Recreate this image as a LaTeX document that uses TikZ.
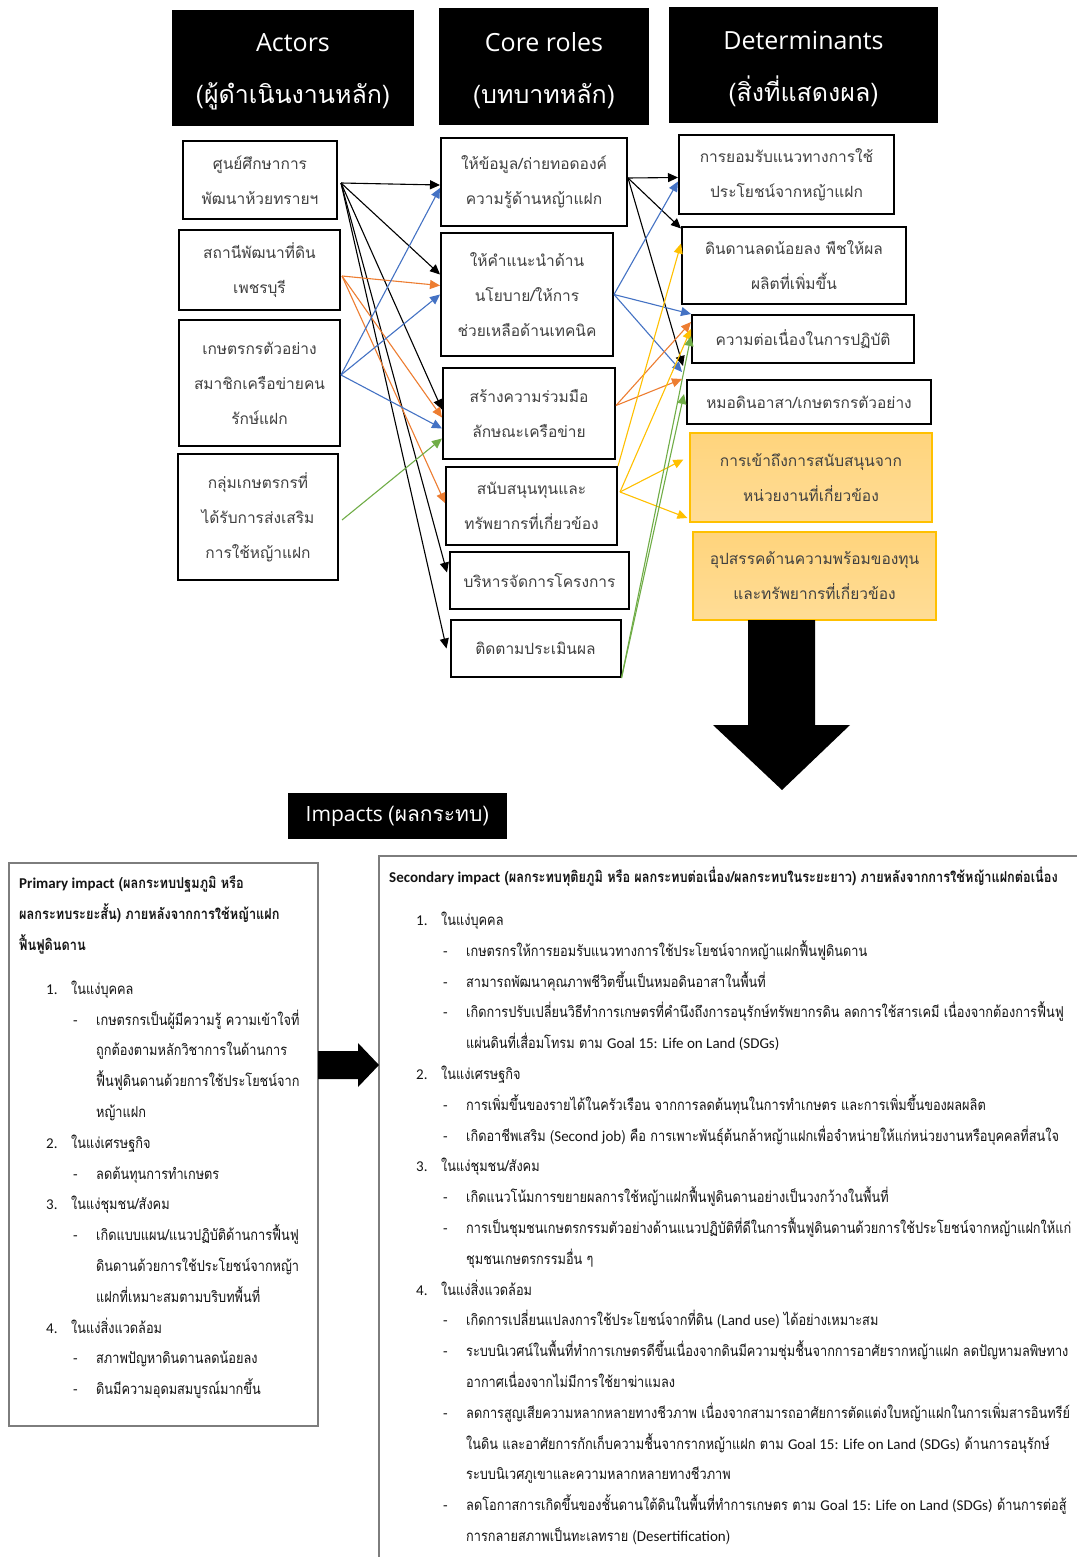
\documentclass[tikz,border=0pt]{standalone}
\usepackage{fontspec}
\setmainfont{Carlito}
\newfontfamily\thaifont[Script=Thai]{Loma}
\newfontfamily\thainarrow[Script=Thai,FakeStretch=0.85]{Loma}
\newfontfamily\headfont{Open Sans}
\newcommand\eng[1]{{\rmfamily #1}}
\newcommand\numitem[2]{\hspace*{27pt}\makebox[25pt][l]{\eng{#1}}#2}
\newcommand\dashitem[1]{\hspace*{54pt}\makebox[23pt][l]{\eng{-}}#1}
\newcommand\moreline[1]{\hspace*{77pt}#1}
\usetikzlibrary{arrows.meta,calc}

\begin{document}
\begin{tikzpicture}[x=1pt,y=-1pt,
    headbox/.style={fill=black, inner sep=0pt},
    headtext/.style={text=white, align=center, inner sep=0pt,
        font=\fontsize{25}{52}\selectfont},
    thaibox/.style={draw=black, line width=2pt, fill=white, align=center, inner sep=0pt,
        text=boxText, font=\thaifont\fontsize{15.5}{35}\selectfont},
    warnbox/.style={thaibox, draw=lineGold, line width=1.2pt,
        top color=warnFill, bottom color=warnFill!80!white},
    impactbox/.style={draw=frameGray, line width=1.5pt, fill=white, inner sep=0pt},
    impacttext/.style={anchor=north west, align=left, inner sep=0pt, text=black!92,
        font=\thainarrow\fontsize{15}{30.8}\selectfont},
    link/.style={line width=1.1pt, -{Triangle[length=10pt,width=9pt]}},
]
    % Define colors
    \definecolor{boxText}{RGB}{64,64,64}
    \definecolor{lineBlue}{RGB}{68,114,196}
    \definecolor{lineOrange}{RGB}{237,125,49}
    \definecolor{lineGreen}{RGB}{112,173,71}
    \definecolor{lineGold}{RGB}{255,192,0}
    \definecolor{warnFill}{RGB}{255,212,124}
    \definecolor{frameGray}{RGB}{125,125,125}
    \path[use as bounding box, fill=white] (0,0) rectangle (1076,1557);

    % Column headers
    \node[headbox, minimum width=242, minimum height=116] (hactors) at (293,68) {};
    \node[headtext] (hactorstext) at ($(hactors.center)+(0,4)$)
        {{\headfont Actors}\\{\thaifont (ผู้ดำเนินงานหลัก)}};
    \node[headbox, minimum width=210, minimum height=117] (hroles) at (544,66.5) {};
    \node[headtext] (hrolestext) at ($(hroles.center)+(0,4)$)
        {{\headfont Core roles}\\{\thaifont (บทบาทหลัก)}};
    \node[headbox, minimum width=269, minimum height=116] (hdeterm) at (803.5,65) {};
    \node[headtext] (hdetermtext) at ($(hdeterm.center)+(0,4)$)
        {{\headfont Determinants}\\{\thaifont (สิ่งที่แสดงผล)}};

    % Actors
    \node[thaibox, minimum width=154, minimum height=77] (huaysai) at (260,180)
        {ศูนย์ศึกษาการ\\พัฒนาห้วยทรายฯ};
    \node[thaibox, minimum width=161, minimum height=80] (ldd) at (259.5,270)
        {สถานีพัฒนาที่ดิน\\เพชรบุรี};
    \node[thaibox, minimum width=161, minimum height=126] (modelfarm) at (259.5,383)
        {เกษตรกรตัวอย่าง\\สมาชิกเครือข่ายคน\\รักษ์แฝก};
    \node[thaibox, minimum width=160, minimum height=126] (farmgroup) at (258,517)
        {กลุ่มเกษตรกรที่\\ได้รับการส่งเสริม\\การใช้หญ้าแฝก};

    % Core roles
    \node[thaibox, minimum width=186, minimum height=88] (inform) at (534,182)
        {ให้ข้อมูล/ถ่ายทอดองค์\\ความรู้ด้านหญ้าแฝก};
    \node[thaibox, minimum width=172, minimum height=123] (advise) at (527,294.5)
        {ให้คำแนะนำด้าน\\นโยบาย/ให้การ\\ช่วยเหลือด้านเทคนิค};
    \node[thaibox, minimum width=172, minimum height=91] (network) at (529,413.5)
        {สร้างความร่วมมือ\\ลักษณะเครือข่าย};
    \node[thaibox, minimum width=171, minimum height=78] (fund) at (531.5,506)
        {สนับสนุนทุนและ\\ทรัพยากรที่เกี่ยวข้อง};
    \node[thaibox, minimum width=179, minimum height=57] (manage) at (539.5,580.5)
        {บริหารจัดการโครงการ};
    \node[thaibox, minimum width=170, minimum height=57] (monitor) at (535.5,648.5)
        {ติดตามประเมินผล};

    % Determinants
    \node[thaibox, minimum width=215, minimum height=79] (accept) at (786.5,174.5)
        {การยอมรับแนวทางการใช้\\ประโยชน์จากหญ้าแฝก};
    \node[thaibox, minimum width=224, minimum height=77] (yield) at (794,265.5)
        {ดินดานลดน้อยลง พืชให้ผล\\ผลิตที่เพิ่มขึ้น};
    \node[thaibox, minimum width=222, minimum height=48] (continuity) at (803,339)
        {ความต่อเนื่องในการปฏิบัติ};
    \node[thaibox, minimum width=244, minimum height=44] (volunteer) at (809,402)
        {หมอดินอาสา/เกษตรกรตัวอย่าง};
    \node[warnbox, minimum width=242, minimum height=89] (access) at (811,477.5)
        {การเข้าถึงการสนับสนุนจาก\\หน่วยงานที่เกี่ยวข้อง};
    \node[warnbox, minimum width=243, minimum height=88] (barrier) at (814.5,576)
        {อุปสรรคด้านความพร้อมของทุน\\และทรัพยากรที่เกี่ยวข้อง};

    % Actors -> core roles
    \draw[link] ($(huaysai.east)+(3,3)$) -- ($(inform.west)+(0,3)$);
    \draw[link] ($(huaysai.east)+(3,3)$) -- ($(advise.west)+(0,-20)$);
    \draw[link] ($(huaysai.east)+(3,3)$) -- ($(network.west)+(0,-4)$);
    \draw[link] ($(huaysai.east)+(3,3)$) -- ($(manage.west)+(-2,-8)$);
    \draw[link] ($(huaysai.east)+(3,3)$) -- ($(monitor.west)+(-3,0)$);
    \draw[link, lineOrange] ($(ldd.east)+(1,6)$) -- ($(advise.west)+(0,-9)$);
    \draw[link, lineOrange] ($(ldd.east)+(1,6)$) -- ($(network.west)+(0,4)$);
    \draw[link, lineOrange] ($(ldd.east)+(1,6)$) -- ($(fund.west)+(0,-3)$);
    \draw[link, lineBlue] ($(modelfarm.east)+(0,-8)$) -- ($(inform.west)+(0,6)$);
    \draw[link, lineBlue] ($(modelfarm.east)+(0,-8)$) -- (advise.west);
    \draw[link, lineBlue] ($(modelfarm.east)+(0,-8)$) -- ($(network.west)+(0,15)$);
    \draw[link, lineGreen] ($(farmgroup.east)+(3,3)$) -- ($(network.west)+(0,25)$);

    % Core roles -> determinants
    \draw[link] ($(inform.east)+(0,-4)$) -- ($(accept.west)+(0,3)$);
    \draw[link] ($(inform.east)+(0,-4)$) -- ($(yield.west)+(0,-37)$);
    \draw[link] ($(inform.east)+(0,-4)$) -- ($(volunteer.west)+(-3,-36)$);
    \draw[link, lineBlue] (advise.east) -- ($(accept.west)+(0,7)$);
    \draw[link, lineBlue] (advise.east) -- ($(continuity.west)+(0,-25)$);
    \draw[link, lineBlue] (advise.east) -- ($(volunteer.west)+(-4,-30)$);
    \draw[link, lineOrange] ($(network.east)+(0,-8)$) -- ($(continuity.west)+(0,-17)$);
    \draw[link, lineOrange] ($(network.east)+(0,-8)$) -- ($(volunteer.west)+(-4,-23)$);
    \draw[link, lineGold] (fund.north east) -- ($(yield.west)+(0,-22)$);
    \draw[link, lineGold] ($(fund.east)+(2,-14)$) -- ($(continuity.west)+(0,-10)$);
    \draw[link, lineGold] ($(fund.east)+(2,-14)$) -- ($(access.west)+(-6,-18)$);
    \draw[link, lineGold] ($(fund.east)+(2,-14)$) -- ($(barrier.west)+(-5,-58)$);
    \draw[link, lineGreen] (monitor.south east) -- ($(continuity.west)+(0,-3)$);
    \draw[link, lineGreen] (monitor.south east) -- ($(volunteer.west)+(-2,-8)$);

    % Big arrow down to impacts
    \fill (748,620) -- (815,620) -- (815,725) -- (850,725) -- (782,790)
        -- (713,725) -- (748,725) -- cycle;
    \node[headbox, minimum width=219, minimum height=46] (impacts) at (397.5,816) {};
    \node[headtext, font=\fontsize{21}{26}\selectfont] (impactstext) at (impacts.center)
        {{\headfont Impacts} {\thaifont (ผลกระทบ)}};

    % Impact boxes
    \node[impactbox, anchor=north west, minimum width=309, minimum height=563] (primary) at (8,862) {};
    \node[impactbox, anchor=north west, minimum width=720, minimum height=720] (secondary) at (378,855) {};
    \fill (318,1051) -- (358,1051) -- (358,1043) -- (379,1065) -- (358,1087)
        -- (358,1079) -- (318,1079) -- cycle;

    \node[impacttext] (primtext) at (19,876) {%
        \textbf{\eng{Primary impact} (ผลกระทบปฐมภูมิ หรือ}\\
        \textbf{ผลกระทบระยะสั้น) ภายหลังจากการใช้หญ้าแฝก}\\
        \textbf{ฟื้นฟูดินดาน}\\[13pt]
        \numitem{1.}{ในแง่บุคคล}\\
        \dashitem{เกษตรกรเป็นผู้มีความรู้ ความเข้าใจที่}\\
        \moreline{ถูกต้องตามหลักวิชาการในด้านการ}\\
        \moreline{ฟื้นฟูดินดานด้วยการใช้ประโยชน์จาก}\\
        \moreline{หญ้าแฝก}\\
        \numitem{2.}{ในแง่เศรษฐกิจ}\\
        \dashitem{ลดต้นทุนการทำเกษตร}\\
        \numitem{3.}{ในแง่ชุมชน/สังคม}\\
        \dashitem{เกิดแบบแผน/แนวปฏิบัติด้านการฟื้นฟู}\\
        \moreline{ดินดานด้วยการใช้ประโยชน์จากหญ้า}\\
        \moreline{แฝกที่เหมาะสมตามบริบทพื้นที่}\\
        \numitem{4.}{ในแง่สิ่งแวดล้อม}\\
        \dashitem{สภาพปัญหาดินดานลดน้อยลง}\\
        \dashitem{ดินมีความอุดมสมบูรณ์มากขึ้น}};

    \node[impacttext] (sectext) at (389,867) {%
        \textbf{\eng{Secondary impact} (ผลกระทบทุติยภูมิ หรือ ผลกระทบต่อเนื่อง/ผลกระทบในระยะยาว) ภายหลังจากการใช้หญ้าแฝกต่อเนื่อง}\\[12pt]
        \numitem{1.}{ในแง่บุคคล}\\
        \dashitem{เกษตรกรให้การยอมรับแนวทางการใช้ประโยชน์จากหญ้าแฝกฟื้นฟูดินดาน}\\
        \dashitem{สามารถพัฒนาคุณภาพชีวิตขึ้นเป็นหมอดินอาสาในพื้นที่}\\
        \dashitem{เกิดการปรับเปลี่ยนวิธีทำการเกษตรที่คำนึงถึงการอนุรักษ์ทรัพยากรดิน ลดการใช้สารเคมี เนื่องจากต้องการฟื้นฟู}\\
        \moreline{แผ่นดินที่เสื่อมโทรม ตาม \eng{Goal 15: Life on Land (SDGs)}}\\
        \numitem{2.}{ในแง่เศรษฐกิจ}\\
        \dashitem{การเพิ่มขึ้นของรายได้ในครัวเรือน จากการลดต้นทุนในการทำเกษตร และการเพิ่มขึ้นของผลผลิต}\\
        \dashitem{เกิดอาชีพเสริม (\eng{Second job}) คือ การเพาะพันธุ์ต้นกล้าหญ้าแฝกเพื่อจำหน่ายให้แก่หน่วยงานหรือบุคคลที่สนใจ}\\
        \numitem{3.}{ในแง่ชุมชน/สังคม}\\
        \dashitem{เกิดแนวโน้มการขยายผลการใช้หญ้าแฝกฟื้นฟูดินดานอย่างเป็นวงกว้างในพื้นที่}\\
        \dashitem{การเป็นชุมชนเกษตรกรรมตัวอย่างด้านแนวปฏิบัติที่ดีในการฟื้นฟูดินดานด้วยการใช้ประโยชน์จากหญ้าแฝกให้แก่}\\
        \moreline{ชุมชนเกษตรกรรมอื่น ๆ}\\
        \numitem{4.}{ในแง่สิ่งแวดล้อม}\\
        \dashitem{เกิดการเปลี่ยนแปลงการใช้ประโยชน์จากที่ดิน (\eng{Land use}) ได้อย่างเหมาะสม}\\
        \dashitem{ระบบนิเวศน์ในพื้นที่ทำการเกษตรดีขึ้นเนื่องจากดินมีความชุ่มชื้นจากการอาศัยรากหญ้าแฝก ลดปัญหามลพิษทาง}\\
        \moreline{อากาศเนื่องจากไม่มีการใช้ยาฆ่าแมลง}\\
        \dashitem{ลดการสูญเสียความหลากหลายทางชีวภาพ เนื่องจากสามารถอาศัยการตัดแต่งใบหญ้าแฝกในการเพิ่มสารอินทรีย์}\\
        \moreline{ในดิน และอาศัยการกักเก็บความชื้นจากรากหญ้าแฝก ตาม \eng{Goal 15: Life on Land (SDGs)} ด้านการอนุรักษ์}\\
        \moreline{ระบบนิเวศภูเขาและความหลากหลายทางชีวภาพ}\\
        \dashitem{ลดโอกาสการเกิดขึ้นของชั้นดานใต้ดินในพื้นที่ทำการเกษตร ตาม \eng{Goal 15: Life on Land (SDGs)} ด้านการต่อสู้}\\
        \moreline{การกลายสภาพเป็นทะเลทราย (\eng{Desertification})}};
\end{tikzpicture}
\end{document}
